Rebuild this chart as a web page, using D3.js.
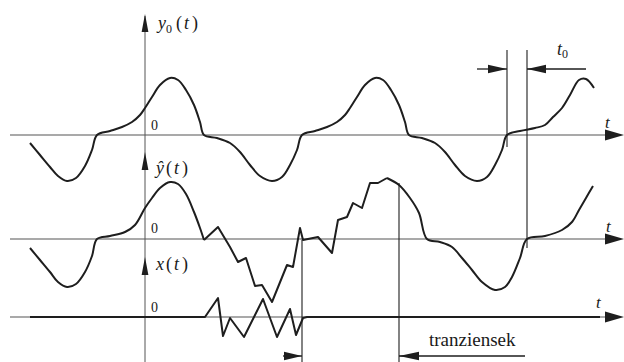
<!DOCTYPE html>
<html>
<head>
<meta charset="utf-8">
<script src="https://cdn.jsdelivr.net/npm/d3@7"></script>
<style>
body { margin: 0; background: #fff; }
text { font-family: "Liberation Serif", "DejaVu Serif", serif; fill: #1a1a1a; }
</style>
</head>
<body>
<div id="chart"></div>
<script>

//////////////////////////////////////////////////////////////////////////////
// Data (time t, value v)

// periodic output y0(t)
var y0Points = [
    [-11.5,-0.8],[-10.5,-2.0],[-9.5,-3.2],[-8.7,-4.1],[-7.8,-4.6],[-6.9,-4.3],
    [-6.0,-3.1],[-5.3,-1.5],[-4.8,0],[-3.5,0.4],[-2.3,0.8],[-1.3,1.3],[-0.5,2.0],
    [0,2.7],[0.7,3.8],[1.5,5.0],[2.5,5.7],[3.3,5.5],[4.1,4.5],[4.9,3.0],[5.5,1.3],
    [5.9,0],[7.2,-0.3],[8.5,-0.8],[9.5,-1.7],[10.5,-3.0],[11.5,-4.1],[12.7,-4.6],
    [13.7,-4.2],[14.5,-3.0],[15.2,-1.5],[15.7,0],[17.0,0.4],[18.2,0.8],[19.2,1.3],
    [20.0,2.0],[20.5,2.7],[21.2,3.8],[22.0,5.0],[23.0,5.7],[23.8,5.5],[24.6,4.5],
    [25.4,3.0],[26.0,1.3],[26.4,0],[27.7,-0.3],[29.0,-0.8],[30.0,-1.7],[31.0,-3.0],
    [32.0,-4.1],[33.2,-4.6],[34.2,-4.2],[35.0,-3.0],[35.7,-1.5],[36.2,0],[37.5,0.4],
    [39.0,0.7],[40.0,1.0],[40.8,1.8],[41.7,2.7],[42.5,4.0],[43.4,5.5],[44.1,5.6],
    [44.9,4.7]
];

// estimated output y^(t): before, during and after the transient
var yHatBefore = [
    [-11.5,-0.9],[-10.5,-2.1],[-9.5,-3.3],[-8.7,-4.3],[-7.8,-4.8],[-6.9,-4.5],
    [-6.0,-3.3],[-5.3,-1.7],[-4.8,0],[-3.5,0.3],[-2.0,0.7],[-1.0,1.4],[0,3.1],
    [0.7,4.1],[1.5,5.1],[2.5,5.7],[3.3,5.5],[4.1,4.5],[4.9,2.7],[5.5,1.1],[5.9,-0.1]
];
var yHatTransient = [
    [5.9,-0.1],[7.3,1.2],[8.5,-0.8],[9.3,-2.3],[10.1,-1.9],[11.0,-4.7],[11.7,-4.6],
    [12.7,-6.3],[14.2,-2.6],[14.8,-2.8],[15.5,1.1],[15.8,-0.1],[17.3,0.2],[18.7,-1.4],
    [19.3,1.9],[20.2,2.2],[20.8,3.6],[21.7,3.1],[22.5,5.6],[23.3,5.6],[24.2,6.1]
];
var yHatAfter = [
    [24.2,6.1],[25.4,5.4],[26.5,4.1],[27.4,2.6],[28.2,0],[29.5,-0.3],[30.7,-0.8],
    [31.7,-1.9],[32.7,-3.1],[33.7,-4.3],[35.0,-5.1],[36.0,-4.8],[36.7,-3.8],
    [37.5,-1.9],[38.2,0],[40.0,0.3],[41.7,0.9],[42.7,1.7],[43.4,2.9],[44.1,4.1],
    [44.8,5.3]
];

// input x(t)
var xPoints = [
    [-11.5,0],[6.0,0],[7.3,1.9],[7.8,-1.9],[8.5,-0.1],[9.9,-2.0],[11.8,1.8],
    [13.2,-2.0],[14.5,0.8],[15.1,-1.8],[15.8,-0.1],[16.2,0],[45.5,0]
];

var t0Marks = [36.2, 38.2];
var transientMarks = [15.7, 25.4];
var zeroLabel = "0";
var axisLabel = "t";
var transientLabel = "tranziensek";

//////////////////////////////////////////////////////////////////////////////
// Layout

var width = 624, height = 362;
var ink = "#1e1e1e";

var xScale = d3.scaleLinear().domain([-13.5, 47.9]).range([10, 624]);

var panels = [
    { name: "y0",   base: 135, tip: 14,  labelY: 29,  zeroY: 130, tY: 128, tX: 605 },
    { name: "yhat", base: 239, tip: 152, labelY: 174, zeroY: 233, tY: 232, tX: 606 },
    { name: "x",    base: 317, tip: 257, labelY: 270, zeroY: 312, tY: 308, tX: 596 }
];
panels.forEach(function(p) {
    p.y = d3.scaleLinear().domain([0, 10]).range([p.base, p.base - 100]);
});

var svg = d3.select("#chart").append("svg")
    .attr("width", width)
    .attr("height", height);

function arrowHead(sel, x, y, dx, dy, len, half) {
    // tip at (x,y), pointing in direction (dx,dy)
    var bx = x - dx * len, by = y - dy * len;
    var nx = -dy * half, ny = dx * half;
    sel.append("path")
        .attr("d", "M" + x + "," + y + " L" + (bx + nx) + "," + (by + ny) +
                   " L" + (bx - nx) + "," + (by - ny) + " Z")
        .attr("fill", ink);
}

// vertical axis
var x0 = xScale(0);
svg.append("line")
    .attr("x1", x0).attr("x2", x0)
    .attr("y1", 16).attr("y2", height)
    .attr("stroke", "#555").attr("stroke-width", 1);

panels.forEach(function(p) {
    svg.append("line")
        .attr("x1", xScale(-13.5)).attr("x2", 608)
        .attr("y1", p.base).attr("y2", p.base)
        .attr("stroke", "#555").attr("stroke-width", 1.1);
    arrowHead(svg, 624, p.base, 1, 0, 19, 5.5);
    arrowHead(svg, x0, p.tip, 0, -1, 18, 3.4);

    svg.append("text")
        .attr("x", x0 + 6).attr("y", p.zeroY)
        .attr("font-family", "Liberation Sans, sans-serif")
        .attr("font-size", 14)
        .text(zeroLabel);

    svg.append("text")
        .attr("x", p.tX).attr("y", p.tY)
        .attr("font-style", "italic")
        .attr("font-size", 17)
        .text(axisLabel);
});

// signal curves
var smooth = d3.line()
    .x(function(d) { return xScale(d[0]); })
    .curve(d3.curveCatmullRom.alpha(0.5));
var sharp = d3.line()
    .x(function(d) { return xScale(d[0]); });

function drawCurve(panel, data, gen) {
    svg.append("path")
        .datum(data)
        .attr("d", gen.y(function(d) { return panel.y(d[1]); }))
        .attr("fill", "none")
        .attr("stroke", ink)
        .attr("stroke-width", 2)
        .attr("stroke-linejoin", "round");
}

drawCurve(panels[0], y0Points, smooth);
drawCurve(panels[1], yHatBefore, smooth);
drawCurve(panels[1], yHatTransient, sharp);
drawCurve(panels[1], yHatAfter, smooth);
drawCurve(panels[2], xPoints, sharp);

// marker lines
function vline(t, y1, y2) {
    svg.append("line")
        .attr("x1", xScale(t)).attr("x2", xScale(t))
        .attr("y1", y1).attr("y2", y2)
        .attr("stroke", ink).attr("stroke-width", 1.1);
}
vline(t0Marks[0], 50, 147);
vline(t0Marks[1], 50, 248);
vline(transientMarks[0], 240, height);
vline(transientMarks[1], 183, height);

function dimArrow(tFrom, tTo, y, len) {
    svg.append("line")
        .attr("x1", xScale(tFrom)).attr("x2", xScale(tTo))
        .attr("y1", y).attr("y2", y)
        .attr("stroke", ink).attr("stroke-width", 1.3);
    arrowHead(svg, xScale(tTo), y, tTo > tFrom ? 1 : -1, 0, len, 4.2);
}
dimArrow(33.2, t0Marks[0], 69, 19);
dimArrow(44.1, t0Marks[1], 69, 19);
dimArrow(13.8, transientMarks[0], 356, 18);
dimArrow(38.0, transientMarks[1], 356, 20);

// labels
var lab0 = svg.append("text").attr("x", 158).attr("y", 29).attr("font-size", 18);
lab0.append("tspan").attr("font-style", "italic").text("y");
lab0.append("tspan").attr("font-size", 12).attr("dy", 4).text("0");
lab0.append("tspan").attr("dy", -4).attr("dx", 4).text("(");
lab0.append("tspan").attr("font-style", "italic").attr("dx", 2).text("t");
lab0.append("tspan").attr("dx", 3).text(")");

var lab1 = svg.append("text").attr("x", 156).attr("y", 174).attr("font-size", 18);
lab1.append("tspan").attr("font-style", "italic").text("\u0177");
lab1.append("tspan").attr("dx", 2).text("(");
lab1.append("tspan").attr("font-style", "italic").attr("dx", 2).text("t");
lab1.append("tspan").attr("dx", 3).text(")");

var lab2 = svg.append("text").attr("x", 156).attr("y", 270).attr("font-size", 18);
lab2.append("tspan").attr("font-style", "italic").text("x");
lab2.append("tspan").attr("dx", 2).text("(");
lab2.append("tspan").attr("font-style", "italic").attr("dx", 2).text("t");
lab2.append("tspan").attr("dx", 3).text(")");

var labT0 = svg.append("text").attr("x", 557).attr("y", 55).attr("font-size", 18);
labT0.append("tspan").attr("font-style", "italic").text("t");
labT0.append("tspan").attr("font-size", 12).attr("dy", 3).text("0");

svg.append("text")
    .attr("x", 429).attr("y", 346)
    .attr("font-size", 19)
    .text(transientLabel);

</script>
</body>
</html>
